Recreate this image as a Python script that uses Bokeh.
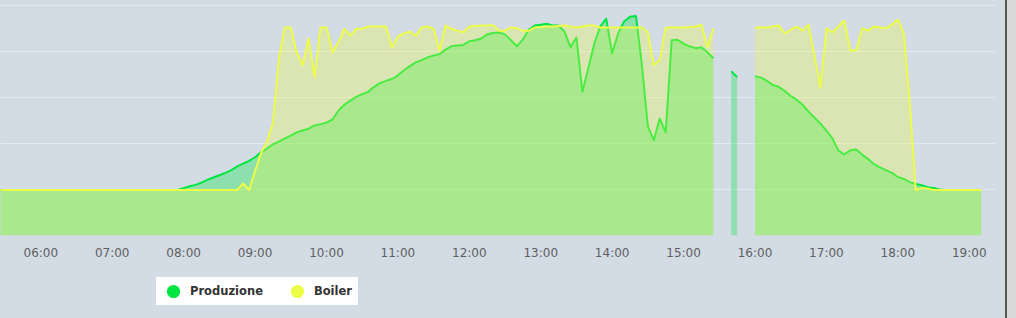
import numpy as np
from bokeh.plotting import figure
from bokeh.models import FixedTicker, Legend, LegendItem, Div, Range1d
from bokeh.layouts import row, column
from bokeh.embed import file_html
from bokeh.resources import INLINE

# ---- data (5-minute samples starting at 05:25) ----
start_time = "05:25"
step_minutes = 5

produzione = [
    0, 0, 0, 0, 0, 0, 0,                                                    # 05:25-05:55
    0, 0, 0, 0, 0, 0, 0, 0, 0, 0, 0, 0,                                     # 06
    0, 0, 0, 0, 0, 0, 0, 0, 0, 0, 0, 0,                                     # 07
    0.04, 0.08, 0.11, 0.16, 0.22, 0.27, 0.32, 0.37, 0.43, 0.51, 0.57, 0.63, # 08
    0.71, 0.82, 0.90, 0.99, 1.05, 1.12, 1.18, 1.25, 1.29, 1.33, 1.40, 1.43, # 09
    1.46, 1.53, 1.72, 1.85, 1.94, 2.02, 2.08, 2.13, 2.24, 2.32, 2.37, 2.41, # 10
    2.49, 2.60, 2.69, 2.77, 2.82, 2.88, 2.92, 2.95, 3.05, 3.12, 3.14, 3.15, # 11
    3.23, 3.25, 3.29, 3.38, 3.41, 3.42, 3.38, 3.25, 3.12, 3.27, 3.48, 3.57, # 12
    3.59, 3.61, 3.57, 3.57, 3.44, 3.10, 3.31, 2.13, 2.65, 3.18, 3.55, 3.72, # 13
    2.97, 3.40, 3.66, 3.76, 3.78, 2.71, 1.38, 1.08, 1.55, 1.25, 3.25, 3.26, # 14
    3.18, 3.12, 3.08, 3.10, 2.99, 2.86, None, None, 2.58, 2.45, None, None, # 15
    2.47, 2.44, 2.37, 2.28, 2.24, 2.15, 2.04, 1.96, 1.85, 1.70, 1.57, 1.44, # 16
    1.29, 1.12, 0.86, 0.77, 0.86, 0.88, 0.77, 0.67, 0.56, 0.49, 0.43, 0.37, # 17
    0.28, 0.24, 0.17, 0.13, 0.10, 0.06, 0.04, 0.01, 0, 0, 0, 0,             # 18
    0, 0, 0,                                                                # 19:00-19:10
]

boiler = [
    0, 0, 0, 0, 0, 0, 0,                                                    # 05:25-05:55
    0, 0, 0, 0, 0, 0, 0, 0, 0, 0, 0, 0,                                     # 06
    0, 0, 0, 0, 0, 0, 0, 0, 0, 0, 0, 0,                                     # 07
    0, 0, 0, 0, 0, 0, 0, 0, 0, 0, 0.14, 0,                                  # 08
    0.41, 0.80, 1.05, 1.45, 2.85, 3.53, 3.53, 2.99, 2.71, 3.29, 2.45, 3.53, # 09
    3.53, 2.99, 3.20, 3.50, 3.35, 3.50, 3.50, 3.55, 3.55, 3.55, 3.55, 3.10, # 10
    3.33, 3.40, 3.44, 3.35, 3.53, 3.55, 3.50, 3.03, 3.57, 3.50, 3.46, 3.42, # 11
    3.55, 3.56, 3.57, 3.57, 3.58, 3.46, 3.46, 3.53, 3.51, 3.46, 3.46, 3.53, # 12
    3.54, 3.55, 3.55, 3.56, 3.57, 3.55, 3.53, 3.55, 3.57, 3.57, 3.53, 3.53, # 13
    3.53, 3.53, 3.53, 3.53, 3.53, 3.53, 3.42, 2.71, 2.82, 3.53, 3.53, 3.53, # 14
    3.53, 3.54, 3.55, 3.59, 3.10, 3.51, None, None, None, None, None, None, # 15
    3.53, 3.53, 3.53, 3.55, 3.57, 3.40, 3.48, 3.55, 3.46, 3.59, 2.92, 2.22, # 16
    3.51, 3.42, 3.55, 3.68, 3.03, 3.03, 3.51, 3.46, 3.55, 3.53, 3.51, 3.59, # 17
    3.70, 3.40, 1.90, 0, 0.04, 0.03, 0, 0, 0, 0, 0, 0,                      # 18
    0, 0, 0,                                                                # 19:00-19:10
]

tick_hours = [6, 7, 8, 9, 10, 11, 12, 13, 14, 15, 16, 17, 18, 19]
tick_labels = ["06:00", "07:00", "08:00", "09:00", "10:00", "11:00", "12:00",
               "13:00", "14:00", "15:00", "16:00", "17:00", "18:00", "19:00"]
grid_values = [0, 1, 2, 3, 4]
series_names = ["Produzione", "Boiler"]

# ---- styling ----
BG = "#d3dbe4"
GREEN = "#00e640"
YELLOW = "#edfc46"
X_START, X_END = 5.4357, 19.3675
Y_START, Y_END = -0.99, 4.115

h0, m0 = map(int, start_time.split(":"))
hours = np.array([h0 + m0 / 60 + i * step_minutes / 60 for i in range(len(produzione))])
prod = np.array(produzione, dtype=float)
boil = np.array(boiler, dtype=float)


def segments(vals):
    ok = ~np.isnan(vals)
    segs, cur = [], []
    for i, good in enumerate(ok):
        if good:
            cur.append(i)
        elif cur:
            segs.append(cur)
            cur = []
    if cur:
        segs.append(cur)
    return segs


p = figure(width=1005, height=262, output_backend="svg", toolbar_location=None,
           x_range=Range1d(X_START, X_END), y_range=Range1d(Y_START, Y_END),
           y_axis_location=None, min_border=0, min_border_left=0, min_border_right=10,
           min_border_top=0, min_border_bottom=25)
p.background_fill_color = BG
p.border_fill_color = BG
p.outline_line_color = None
p.xgrid.visible = False
p.ygrid.ticker = FixedTicker(ticks=grid_values)
p.ygrid.grid_line_color = "#e4e9ef"
p.ygrid.grid_line_width = 1

ax = p.xaxis[0]
ax.ticker = FixedTicker(ticks=tick_hours)
ax.major_label_overrides = {h: lab for h, lab in zip(tick_hours, tick_labels)}
ax.axis_line_color = None
ax.major_tick_line_color = None
ax.minor_tick_line_color = None
ax.major_tick_out = 0
ax.major_tick_in = 0
ax.major_label_standoff = 10
ax.major_label_text_font = "DejaVu Sans"
ax.major_label_text_font_size = "12px"
ax.major_label_text_color = "#606060"

for vals, color, alpha in [(prod, GREEN, 0.33), (boil, YELLOW, 0.31)]:
    for seg in segments(vals):
        p.varea(x=hours[seg], y1=np.full(len(seg), Y_START), y2=vals[seg],
                fill_color=color, fill_alpha=alpha)
    p.line(x=hours, y=vals, line_color=color, line_width=2, line_join="round")

# ---- legend strip below the axis ----
lf = figure(width=1005, height=56, output_backend="svg", toolbar_location=None,
            x_range=Range1d(0, 1), y_range=Range1d(0, 1),
            x_axis_location=None, y_axis_location=None, min_border=0)
lf.background_fill_color = BG
lf.border_fill_color = BG
lf.outline_line_color = None
lf.grid.visible = False

# legend swatches (markers placed outside the visible range, only their legend glyph shows)
leg_g = lf.scatter(x=[-5], y=[-5], marker="circle", size=12, fill_color=GREEN, line_color=GREEN, line_width=2)
leg_y = lf.scatter(x=[-5], y=[-5], marker="circle", size=12, fill_color=YELLOW, line_color=YELLOW, line_width=2)

legend = Legend(items=[LegendItem(label=series_names[0], renderers=[leg_g]),
                       LegendItem(label=series_names[1], renderers=[leg_y])],
                location=(156, 13), orientation="horizontal", padding=0, spacing=17,
                glyph_width=34, glyph_height=28, label_height=28, label_width=44,
                label_standoff=-1, margin=0,
                background_fill_color="white", background_fill_alpha=1.0,
                border_line_color=None,
                label_text_font="DejaVu Sans", label_text_font_style="bold",
                label_text_font_size="11.5px", label_text_color="#333333")
lf.add_layout(legend, "center")

strip = Div(text="", width=11, height=318, margin=0,
            styles={"background-color": "#dadada", "border-left": "2px solid #55564b",
                    "box-sizing": "border-box"})

layout = row(column(p, lf, spacing=0, styles={"background-color": BG}), strip, spacing=0,
             styles={"background-color": BG})
open("out.html", "w").write(file_html(layout, INLINE))
